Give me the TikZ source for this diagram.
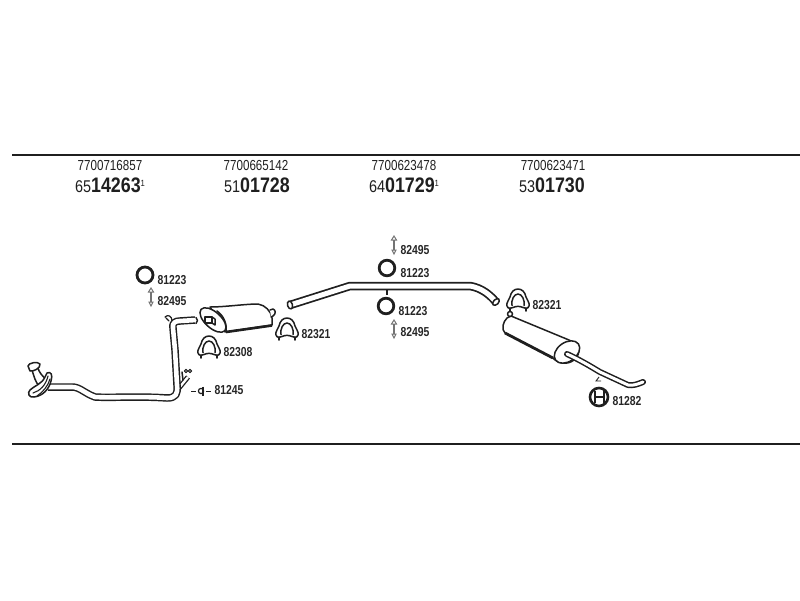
\documentclass[tikz,border=0pt]{standalone}
\usepackage{fontspec}
\setmainfont{Liberation Sans}
\newfontfamily\nar[FakeStretch=0.8]{Liberation Sans}
\newfontfamily\wid[FakeStretch=0.85]{Liberation Sans}
\newcommand{\fs}[1]{\fontsize{#1}{#1}\selectfont}
\colorlet{ink}{black!88}
\tikzset{
  x=1pt,y=-1pt,
  rule/.style={draw=ink,line width=2pt},
  partno/.style={font=\nar\fs{14.5}\color{ink},inner sep=0},
  order/.style={inner sep=0,text=ink},
  tag/.style={font=\nar\bfseries\fs{13}\color{black!85},inner sep=0},
  outl/.style={draw=ink,line width=1.5pt,line join=round,line cap=round},
  ring/.style={draw=ink,line width=2.8pt,fill=white},
  pics/uclamp/.style={code={
    \draw[outl,fill=white] (-11,6) .. controls (-12,3) and (-9,0) .. (-8,-3) .. controls (-7,-8) and (-4,-11) .. (0,-11) .. controls (4,-11) and (7,-8) .. (8,-3) .. controls (9,0) and (12,3) .. (11,6) .. controls (10,9) and (7,9) .. (5,7.5) .. controls (2,6) and (-2,6) .. (-5,7.5) .. controls (-7,9) and (-10,9) .. (-11,6) -- cycle;
    \draw[outl] (-6,5.5) .. controls (-7,0) and (-4,-6) .. (0,-6) .. controls (4,-6) and (7,0) .. (6,5.5);
    \draw[outl,line width=1.8pt] (-8,8) -- (-8,11) (8,8) -- (8,11);
  }},
  pics/stud/.style={code={
    \draw[draw=black!55,line width=1pt,fill=white] (0,-9) -- (-2.5,-5) -- (2.5,-5) -- cycle;
    \draw[draw=black!55,line width=1.8pt] (0,-5) -- (0,5);
    \draw[draw=black!55,line width=1pt] (-2,5) -- (2,5) -- (0,9) -- cycle;
  }}
}
\begin{document}
\begin{tikzpicture}
\useasboundingbox (0,0) rectangle (800,600);
% frame rules
\coordinate (ruleTL) at (12,155); \coordinate (ruleTR) at (800,155);
\coordinate (ruleBL) at (12,444); \coordinate (ruleBR) at (800,444);
\draw[rule] (ruleTL) -- (ruleTR);
\draw[rule] (ruleBL) -- (ruleBR);
% header text
\node[partno] (p1) at (110,166) {7700716857};
\node[partno] (p2) at (256,166) {7700665142};
\node[partno] (p3) at (404,166) {7700623478};
\node[partno] (p4) at (553,166) {7700623471};
\node[order] (o1) at (110,185) {\wid\fs{17}65\bfseries\fs{21}14263\fs{9}\mdseries\raisebox{6pt}{1}};
\node[order] (o2) at (257,185) {\wid\fs{17}51\bfseries\fs{21}01728};
\node[order] (o3) at (404,185) {\wid\fs{17}64\bfseries\fs{21}01729\fs{9}\mdseries\raisebox{6pt}{1}};
\node[order] (o4) at (552,185) {\wid\fs{17}53\bfseries\fs{21}01730};

% branch at the foot of the riser
\draw[ink,line width=5pt] (179,388) -- (188,377);
\draw[white,line width=2.4pt] (179,388) -- (188,377);
\draw[outl,line width=1.1pt] (186,371) circle (1.7) (190,371) circle (1.7);
\draw[outl] (182,372) -- (183,380);
% front pipe
\draw[ink,line width=7.5pt,line join=round] (48,387) -- (72,387) .. controls (80,387) and (84,393) .. (95,397) .. controls (110,398) and (140,396) .. (167,398) .. controls (176,398) and (178,394) .. (177,385) -- (175,350) -- (173,328) .. controls (172,323) and (175,321) .. (180,321) -- (195,320);
\draw[white,line width=4.6pt,line join=round] (48,387) -- (72,387) .. controls (80,387) and (84,393) .. (95,397) .. controls (110,398) and (140,396) .. (167,398) .. controls (176,398) and (178,394) .. (177,385) -- (175,350) -- (173,328) .. controls (172,323) and (175,321) .. (180,321) -- (196,320);
\draw[outl] (196,317.5) .. controls (198,319) and (198,322) .. (196,323.5);
% curl at pipe head
\draw[outl,line width=1.2pt] (165,317) .. controls (168,314) and (172,316) .. (172,321) (166,318) -- (169,321);

% manifold
\draw[outl,fill=white] (32,370) .. controls (34,376) and (35,382) .. (40,387) -- (47,380) .. controls (42,376) and (39,372) .. (38,368) -- cycle;
\draw[outl,fill=white] (28,366) .. controls (28,363) and (38,361) .. (40,364) .. controls (41,368) and (33,372) .. (30,371) -- cycle;
\draw[outl,fill=white] (47,373) .. controls (51,371) and (53,375) .. (51,381) .. controls (49,389) and (43,396) .. (34,397) .. controls (29,398) and (27,393) .. (30,390) .. controls (34,386) and (42,384) .. (45,377) -- cycle;
\draw[outl,line width=1.1pt] (33,393) .. controls (40,391) and (46,385) .. (48,376) (37,396) .. controls (43,392) and (48,386) .. (50,379);

% hanger mark
\draw[ink,line width=1pt] (191,391) -- (196,391) (206,391) -- (211,391);
\draw[ink,line width=1.2pt] (203,386.5) -- (203,395.5);
\draw[ink,line width=1.2pt] (201,391) circle (2.6);

% rings
\draw[ring] (145,275) circle (8);
\draw[ring] (387,268) circle (7.8);
\draw[ring] (386,306) circle (7.8);
% studs
\pic at (151,297) {stud};
\pic at (394,245) {stud};
\pic at (394,329) {stud};

% front silencer
\draw[outl,fill=white] (210,307) .. controls (225,307) and (245,304) .. (258,304) .. controls (265,305) and (271,311) .. (272,318) -- (272,325) -- (225,332) -- cycle;
\draw[ink,line width=2.6pt] (226,332) -- (272,325.5);
\draw[outl,fill=white,rotate around={-42:(213,320)}] (213,320) ellipse (16 and 8);
\draw[outl] (217,311) .. controls (224,316) and (227,324) .. (226,331);
\draw[outl,fill=white] (205,317) rectangle (212,323);
\draw[outl] (212,317) -- (215,319) -- (215,325) -- (212,323);
\draw[outl,fill=white] (270,310) -- (273,309) .. controls (276,310) and (276,314) .. (273,316) -- (271,317);

% centre pipe
\draw[ink,line width=8.5pt] (290,305) -- (350,286) -- (470,286) .. controls (482,288) and (490,295) .. (496,302);
\draw[white,line width=5pt] (290,305) -- (350,286) -- (470,286) .. controls (482,288) and (490,295) .. (496,302);
\draw[outl,fill=white,rotate around={17:(290,305)}] (290,305) ellipse (2.5 and 4);
\draw[outl,fill=white,rotate around={-45:(496,302)}] (496,302) ellipse (2.5 and 4);
\draw[ink,line width=1.2pt] (387,289) -- (387,295);

% clamps
\pic at (287,329) {uclamp};
\pic at (209,347) {uclamp};
\pic at (518,300) {uclamp};

% rear silencer
\draw[outl,fill=white] (511,316) -- (569,340) .. controls (578,344) and (583,352) .. (574,360) .. controls (568,365) and (558,364) .. (553,358) -- (505,333) .. controls (501,329) and (503,322) .. (507,318) -- cycle;
\draw[ink,line width=2.8pt] (553,358) -- (505,333);
\draw[outl,fill=white,rotate around={35:(567,352)}] (567,352) ellipse (14 and 9.5);
\draw[outl,fill=white] (510,314) circle (2.5);
% tail pipe
\draw[ink,line width=6pt,line cap=round] (567,354) .. controls (580,360) and (590,366) .. (600,372) -- (628,385) .. controls (633,386) and (638,384) .. (643,382);
\draw[white,line width=3pt,line cap=round] (567,354) .. controls (580,360) and (590,366) .. (600,372) -- (628,385) .. controls (633,386) and (638,384) .. (643,382);
\draw[ink,line width=.9pt] (599,377) -- (596,381) -- (601,381);
% rear hanger
\draw[ink,line width=2.6pt,fill=white] (599,397) circle (9);
\draw[ink,line width=1.4pt] (595,391) -- (595,403) (604,391) -- (604,403) (595,397) -- (604,397);

% tags
\node[tag] (t1) at (172,280) {81223};
\node[tag] (t2) at (172,301) {82495};
\node[tag] (t3) at (238,352) {82308};
\node[tag] (t4) at (229,390) {81245};
\node[tag] (t5) at (316,334) {82321};
\node[tag] (t6) at (415,250) {82495};
\node[tag] (t7) at (415,273) {81223};
\node[tag] (t8) at (413,311) {81223};
\node[tag] (t9) at (415,332) {82495};
\node[tag] (t10) at (547,305) {82321};
\node[tag] (t11) at (627,401) {81282};
\end{tikzpicture}
\end{document}
